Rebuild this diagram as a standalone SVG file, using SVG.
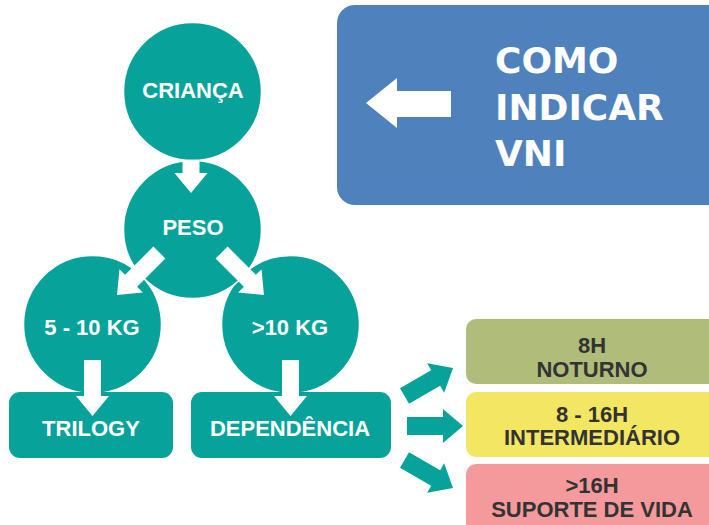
<svg xmlns="http://www.w3.org/2000/svg" width="709" height="525" viewBox="0 0 709 525">
<style>
.t{font-family:"Liberation Sans",Arial,sans-serif;font-weight:bold;text-anchor:middle}
.big{font-family:"DejaVu Sans",sans-serif;font-weight:bold;font-size:36px;fill:#ffffff;text-anchor:start}
.w{fill:#ffffff}
.d{fill:#333333}
.node{fill:#07a39a;stroke:#ffffff;stroke-width:1.5}
.wa{fill:#ffffff}
.ta{fill:#07a39a}
</style>
<defs>
<polygon id="dn" points="-8.5,-60 8.5,-60 8.5,-20 16.5,-20 0,0 -16.5,-20 -8.5,-20"/>
<polygon id="rt" points="-56,-9 -20,-9 -20,-17 0,0 -20,17 -20,9 -56,9"/>
</defs>
<rect width="709" height="525" fill="#ffffff"/>

<g id="vni">
<rect x="337" y="5" width="390" height="200" rx="18" fill="#4f81bd"/>
<polygon fill="#ffffff" points="366,103 397,78 397,91 451,91 451,117 397,117 397,128"/>
<text class="big" x="495" y="73">COMO</text>
<text class="big" x="495" y="120">INDICAR</text>
<text class="big" x="495" y="166">VNI</text>
</g>

<g id="crianca">
<circle class="node" cx="192.5" cy="91.5" r="69"/>
<text class="t w" x="193" y="98" font-size="22">CRIANÇA</text>
</g>
<g id="kg5">
<circle class="node" cx="92.5" cy="324.5" r="69"/>
<text class="t w" x="92" y="335" font-size="22">5 - 10 KG</text>
</g>
<g id="kg10">
<circle class="node" cx="290.5" cy="324.5" r="69"/>
<text class="t w" x="290" y="335" font-size="22">&gt;10 KG</text>
</g>
<g id="peso">
<circle class="node" cx="192.5" cy="229.5" r="69"/>
<text class="t w" x="193" y="235" font-size="22">PESO</text>
</g>
<g id="trilogy">
<rect x="9" y="392" width="164" height="66" rx="11" fill="#07a39a"/>
<text class="t w" x="91" y="436" font-size="22">TRILOGY</text>
</g>
<g id="dependencia">
<rect x="191" y="392" width="200" height="66" rx="11" fill="#07a39a"/>
<text class="t w" x="290" y="436" font-size="22">DEPENDÊNCIA</text>
</g>

<g id="noturno">
<rect x="466" y="319" width="260" height="65" rx="10" fill="#b0bc79"/>
<text class="t d" x="592" y="353" font-size="22">8H</text>
<text class="t d" x="592" y="377" font-size="22">NOTURNO</text>
</g>
<g id="intermediario">
<rect x="466" y="392" width="260" height="65" rx="10" fill="#f2e662"/>
<text class="t d" x="592" y="422" font-size="22">8 - 16H</text>
<text class="t d" x="592" y="445" font-size="22">INTERMEDIÁRIO</text>
</g>
<g id="suporte">
<rect x="466" y="464" width="260" height="80" rx="10" fill="#f4999c"/>
<text class="t d" x="592" y="493" font-size="22">&gt;16H</text>
<text class="t d" x="592" y="517" font-size="22">SUPORTE DE VIDA</text>
</g>

<g id="connectors">
<polygon class="wa" points="-8.5,-33 8.5,-33 8.5,-20 16.5,-20 0,0 -16.5,-20 -8.5,-20" transform="translate(191,193)"/>
<use href="#dn" class="wa" transform="translate(117,295) rotate(45)"/>
<use href="#dn" class="wa" transform="translate(264,295) rotate(-45)"/>
<polygon class="wa" points="-8.5,-56 8.5,-56 8.5,-20 16.5,-20 0,0 -16.5,-20 -8.5,-20" transform="translate(92.5,416)"/>
<polygon class="wa" points="-8.5,-56 8.5,-56 8.5,-20 16.5,-20 0,0 -16.5,-20 -8.5,-20" transform="translate(290.5,416)"/>
<use href="#rt" class="ta" transform="translate(453,368) rotate(-30)"/>
<use href="#rt" class="ta" transform="translate(463,426)"/>
<use href="#rt" class="ta" transform="translate(453,488) rotate(30)"/>
</g>
</svg>
